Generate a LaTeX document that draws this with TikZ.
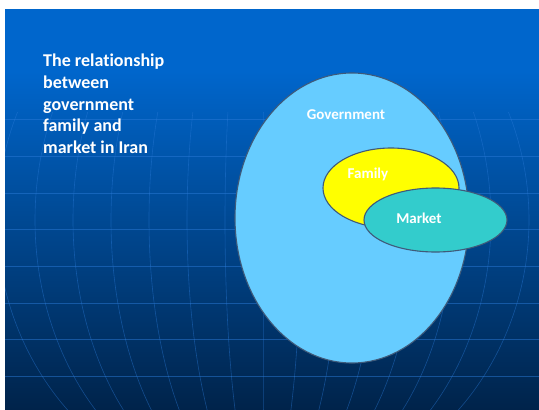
\documentclass[tikz,border=0pt]{standalone}
\usepackage{fontspec}
\setmainfont{Carlito}[Ligatures=NoCommon]
\definecolor{slidetop}{HTML}{0066CC}
\definecolor{slidebot}{HTML}{00234A}
\definecolor{gridblue}{HTML}{2A7AD8}
\definecolor{govblue}{HTML}{66CCFF}
\definecolor{famyellow}{HTML}{FFFF00}
\definecolor{markteal}{HTML}{33CCCC}
\definecolor{rimgray}{HTML}{3F5A7A}
\tikzset{gridline/.style={gridblue,opacity=0.5,line width=0.9pt},
         meridian/.style={gridblue,opacity=0.45,line width=0.6pt,smooth,samples=40},
         setbox/.style={draw=rimgray,line width=1.1pt},
         setlabel/.style={white,font=\bfseries\fontsize{15}{18}\selectfont}}

\begin{document}
\begin{tikzpicture}[x=1pt,y=-1pt]
        \useasboundingbox (0,0) rectangle (539,410);
        \fill[white] (0,0) rectangle (539,410);
        % slide background
        \fill[slidetop] (5,9) rectangle (539,72);
        \shade[top color=slidetop,bottom color=slidebot] (5,71) rectangle (539,410);
        \begin{scope}
            \clip (5,9) rectangle (539,410);
            \foreach \y in {119,156,193,229,266,303,339,376}
                \draw[gridline] (5,\y) -- (539,\y);
            \foreach \k in {-7,...,7}
                \draw[meridian,domain=112:410] plot({263+\k*38*sqrt(1-((\x-220)/280)^2)},\x);
        \end{scope}
        % sets
        \draw[setbox,fill=govblue] (352,218) ellipse (117 and 145);
        \draw[setbox,fill=famyellow] (391,188) ellipse (68 and 40);
        \draw[setbox,fill=markteal] (435.5,220) ellipse (71.5 and 32);
        \node[setlabel] (gov) at (346,115) {Government};
        \node[setlabel] (fam) at (368,174) {Family};
        \node[setlabel] (mkt) at (419,218) {Market};
        \node[white,anchor=north west,align=left,inner sep=0pt,
              font=\bfseries\fontsize{18}{21.7}\selectfont] (title) at (43,54)
              {The relationship\\between\\government\\family and\\market in Iran};
\end{tikzpicture}
\end{document}
